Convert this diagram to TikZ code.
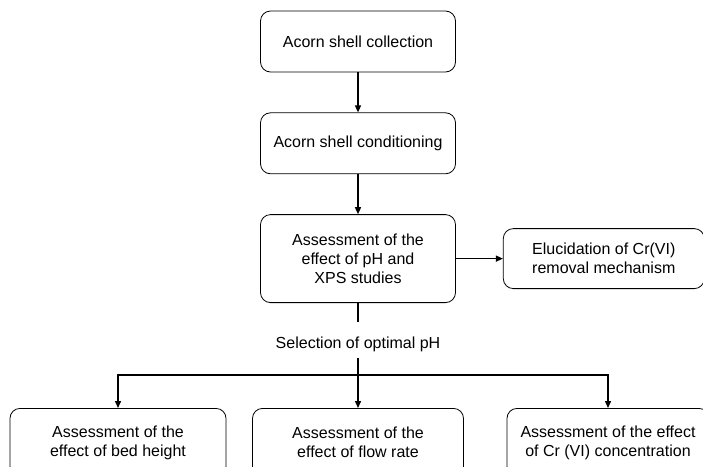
\documentclass[tikz,border=0pt]{standalone}
\usepackage{fontspec}
\setmainfont{Liberation Sans}
\usetikzlibrary{arrows.meta,positioning}

\begin{document}
\begin{tikzpicture}[
    x = 1pt, y = 1pt,
    > = {Triangle[length=7pt,width=6pt]}, % arrow head style
    node distance = 40pt, % distance between boxes
    line width = 1.4pt
    ]

    \tikzset{stagebox/.style={
    draw = black,
    line width = 0.8pt,
    rounded corners = 10pt,
    align = center,
    font = \fontsize{16}{19}\selectfont,
    minimum width = 195pt,
    minimum height = 61pt
    }}
    \useasboundingbox (0,0) rectangle (703,-466);

    \node[stagebox] (collect) at (358,-41.5) {Acorn shell collection};
    \node[stagebox] (condition) [below=of collect] {Acorn shell conditioning};
    \node[stagebox, minimum height=88pt] (phxps) [below=of condition]
        {Assessment of the\\effect of pH and\\XPS studies};
    \node[stagebox, minimum width=201pt, minimum height=60pt] (mech) [right=47pt of phxps]
        {Elucidation of Cr(VI)\\removal mechanism};
    \node[font=\fontsize{16}{19}\selectfont, inner sep=6pt, anchor=base] (select) at (358,-348) {Selection of optimal pH};
    \coordinate (split) at (358,-375);
    \node[stagebox, anchor=north, minimum width=216pt, minimum height=68pt] (bed) at (118,-408)
        {Assessment of the\\effect of bed height};
    \node[stagebox, anchor=north, minimum width=211pt, minimum height=68pt] (flow) at (358,-408)
        {Assessment of the\\effect of flow rate};
    \node[stagebox, anchor=north, minimum width=202pt, minimum height=68pt] (conc) at (608,-408)
        {Assessment of the effect\\of Cr (VI) concentration};

    \draw[->] (collect) -- (condition);
    \draw[->] (condition) -- (phxps);
    \draw[->] (phxps) -- (mech);
    \draw[shorten >=8pt] (phxps) -- (select);
    \draw (select) -- (split);
    \draw[->] (split) -| (bed);
    \draw[->] (split) -- (flow);
    \draw[->] (split) -| (conc);
\end{tikzpicture}
\end{document}
